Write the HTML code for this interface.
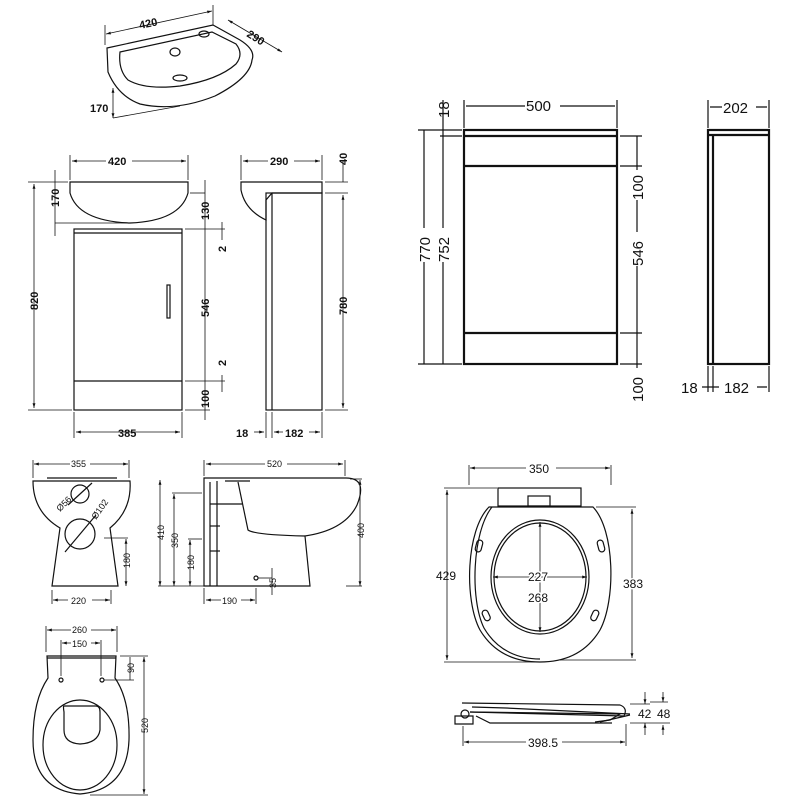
<!DOCTYPE html>
<html><head><style>
html,body{margin:0;padding:0;background:#fff;}
svg{display:block;}
text{font-family:"Liberation Sans",sans-serif;font-weight:bold;fill:#111;}
.l{stroke:#111;fill:none;stroke-width:1.2;}
.t{stroke:#111;fill:none;stroke-width:2.2;}
.d{stroke:#111;fill:none;stroke-width:0.8;}
.s{font-size:9px;font-weight:normal;}
</style></head><body>
<svg width="800" height="800" viewBox="0 0 800 800" xmlns="http://www.w3.org/2000/svg">
<defs><marker id="a" viewBox="0 0 10 10" refX="10" refY="5" markerWidth="6" markerHeight="6" orient="auto-start-reverse"><path d="M0,2 L10,5 L0,8z" fill="#111"/></marker></defs>

<!-- Top basin perspective -->
<g class="l">
<path d="M107,48 L213,25 L240,40 Q256,50 252,60 Q250,78 215,96 Q175,112 140,104 Q118,96 108,72 Z"/>
<path d="M120,52 L212,32 L236,44 Q244,54 236,64 Q218,80 180,86 Q145,90 128,80 Q118,70 120,52Z"/>
<ellipse cx="175" cy="52" rx="5" ry="4"/><ellipse cx="204" cy="34" rx="5" ry="3"/><ellipse cx="180" cy="78" rx="7" ry="3"/>
</g>
<g class="d"><line x1="106" y1="34" x2="212" y2="11" marker-start="url(#a)" marker-end="url(#a)"/><line x1="105" y1="25" x2="105" y2="45"/><line x1="213" y1="5" x2="213" y2="25"/>
<line x1="228" y1="20" x2="282" y2="52" marker-start="url(#a)" marker-end="url(#a)"/>
<line x1="113" y1="88" x2="113" y2="118" marker-start="url(#a)" marker-end="url(#a)"/><line x1="113" y1="118" x2="180" y2="106"/></g>
<text x="140" y="29" font-size="11" transform="rotate(-12 140 29)">420</text>
<text x="246" y="36" font-size="11" transform="rotate(32 246 36)">290</text>
<text x="90" y="112" font-size="11">170</text>

<!-- Vanity front -->
<g class="l">
<path d="M70,182 L188,182 L188,193 Q180,221 130,223 Q78,221 70,193 Z"/>
<rect x="74" y="229" width="108" height="181"/><line x1="74" y1="233" x2="182" y2="233"/><line x1="74" y1="381" x2="182" y2="381"/>
<rect x="167" y="285" width="3" height="33"/>
</g>
<g class="d">
<line x1="72" y1="161" x2="186" y2="161" marker-start="url(#a)" marker-end="url(#a)"/><line x1="70" y1="155" x2="70" y2="180"/><line x1="188" y1="155" x2="188" y2="180"/>
<line x1="34" y1="184" x2="34" y2="408" marker-start="url(#a)" marker-end="url(#a)"/><line x1="28" y1="182" x2="68" y2="182"/><line x1="28" y1="410" x2="72" y2="410"/>
<line x1="55" y1="170" x2="55" y2="236"/><line x1="55" y1="223" x2="130" y2="223"/>
<line x1="205" y1="180" x2="205" y2="420"/><line x1="185" y1="229" x2="225" y2="229"/><line x1="185" y1="381" x2="225" y2="381"/><line x1="185" y1="410" x2="210" y2="410"/><line x1="190" y1="193" x2="205" y2="193"/>
<line x1="222" y1="222" x2="222" y2="240"/><line x1="222" y1="375" x2="222" y2="392"/>
<line x1="76" y1="432" x2="180" y2="432" marker-start="url(#a)" marker-end="url(#a)"/><line x1="74" y1="412" x2="74" y2="438"/><line x1="182" y1="412" x2="182" y2="438"/>
</g>
<rect x="106" y="155" width="26" height="12" fill="#fff"/><text x="108" y="165" font-size="11">420</text>
<text x="38" y="310" font-size="11" transform="rotate(-90 38 310)">820</text>
<text x="59" y="207" font-size="11" transform="rotate(-90 59 207)">170</text>
<text x="209" y="220" font-size="11" transform="rotate(-90 209 220)">130</text>
<text x="209" y="317" font-size="11" transform="rotate(-90 209 317)">546</text>
<text x="209" y="408" font-size="11" transform="rotate(-90 209 408)">100</text>
<text x="226" y="252" font-size="11" transform="rotate(-90 226 252)">2</text>
<text x="226" y="366" font-size="11" transform="rotate(-90 226 366)">2</text>
<text x="118" y="437" font-size="11">385</text>

<!-- Vanity side -->
<g class="l">
<path d="M241,182 L322,182 L322,193 L272,193 L266,200 L266,220 Q245,210 241,190 Z"/>
<rect x="266" y="193" width="56" height="217"/><line x1="272" y1="193" x2="272" y2="410"/>
</g>
<g class="d">
<line x1="243" y1="161" x2="320" y2="161" marker-start="url(#a)" marker-end="url(#a)"/><line x1="241" y1="155" x2="241" y2="180"/><line x1="322" y1="155" x2="322" y2="180"/>
<line x1="343" y1="195" x2="343" y2="408" marker-start="url(#a)" marker-end="url(#a)"/><line x1="325" y1="182" x2="348" y2="182"/><line x1="325" y1="193" x2="348" y2="193"/><line x1="325" y1="410" x2="348" y2="410"/><line x1="343" y1="160" x2="343" y2="182"/>
<line x1="254" y1="432" x2="264" y2="432" marker-end="url(#a)"/><line x1="274" y1="432" x2="320" y2="432" marker-start="url(#a)" marker-end="url(#a)"/><line x1="266" y1="412" x2="266" y2="438"/><line x1="272" y1="412" x2="272" y2="438"/><line x1="322" y1="412" x2="322" y2="438"/>
</g>
<rect x="268" y="155" width="26" height="12" fill="#fff"/><text x="270" y="165" font-size="11">290</text>
<text x="347" y="165" font-size="11" transform="rotate(-90 347 165)">40</text>
<text x="347" y="315" font-size="11" transform="rotate(-90 347 315)">780</text>
<text x="236" y="437" font-size="11">18</text><rect x="283" y="426" width="26" height="12" fill="#fff"/><text x="285" y="437" font-size="11">182</text>

<!-- Tall unit front -->
<g class="t">
<rect x="464" y="130" width="153" height="234"/><line x1="464" y1="136" x2="617" y2="136"/><line x1="464" y1="166" x2="617" y2="166"/><line x1="464" y1="333" x2="617" y2="333"/>
</g>
<g class="l">
<line x1="466" y1="106" x2="615" y2="106"/><line x1="464" y1="100" x2="464" y2="128"/><line x1="617" y1="100" x2="617" y2="128"/>
<line x1="424" y1="130" x2="424" y2="364"/><line x1="443" y1="136" x2="443" y2="364"/><line x1="443" y1="100" x2="443" y2="136"/>
<line x1="418" y1="130" x2="462" y2="130"/><line x1="440" y1="136" x2="462" y2="136"/><line x1="418" y1="364" x2="462" y2="364"/>
<line x1="637" y1="136" x2="637" y2="390"/><line x1="620" y1="136" x2="642" y2="136"/><line x1="620" y1="166" x2="642" y2="166"/><line x1="620" y1="333" x2="642" y2="333"/><line x1="620" y1="364" x2="642" y2="364"/>
</g>
<rect x="525" y="97" width="35" height="16" fill="#fff"/><text x="526" y="111" font-size="15" style="font-weight:normal">500</text>
<rect x="416" y="228" width="16" height="34" fill="#fff"/><text x="430" y="262" font-size="15" style="font-weight:normal" transform="rotate(-90 430 262)">770</text>
<rect x="435" y="228" width="16" height="34" fill="#fff"/><text x="449" y="262" font-size="15" style="font-weight:normal" transform="rotate(-90 449 262)">752</text>
<text x="449" y="118" font-size="15" style="font-weight:normal" transform="rotate(-90 449 118)">18</text>
<rect x="629" y="170" width="16" height="30" fill="#fff"/><text x="643" y="200" font-size="15" style="font-weight:normal" transform="rotate(-90 643 200)">100</text>
<rect x="629" y="232" width="16" height="34" fill="#fff"/><text x="643" y="266" font-size="15" style="font-weight:normal" transform="rotate(-90 643 266)">546</text>
<rect x="629" y="368" width="16" height="34" fill="#fff"/><text x="643" y="402" font-size="15" style="font-weight:normal" transform="rotate(-90 643 402)">100</text>

<!-- Tall unit side -->
<g class="t">
<rect x="708" y="130" width="61" height="234"/><line x1="708" y1="135" x2="769" y2="135"/><line x1="713" y1="135" x2="713" y2="364"/>
</g>
<g class="l">
<line x1="708" y1="100" x2="708" y2="128"/><line x1="769" y1="100" x2="769" y2="128"/><line x1="710" y1="107" x2="767" y2="107"/>
<line x1="708" y1="366" x2="708" y2="392"/><line x1="713" y1="366" x2="713" y2="392"/><line x1="769" y1="366" x2="769" y2="392"/><line x1="700" y1="387" x2="767" y2="387"/>
</g>
<rect x="722" y="99" width="34" height="16" fill="#fff"/><text x="723" y="113" font-size="15" style="font-weight:normal">202</text>
<rect x="680" y="379" width="22" height="16" fill="#fff"/><text x="681" y="393" font-size="15" style="font-weight:normal">18</text>
<rect x="719" y="379" width="38" height="16" fill="#fff"/><text x="724" y="393" font-size="15" style="font-weight:normal">182</text>

<!-- Toilet front -->
<g class="l">
<line x1="47" y1="478" x2="117" y2="478"/>
<path d="M33,481 L130,481 Q132,510 110,528 L118,586 L52,586 L60,528 Q33,512 33,481Z"/>
<circle cx="80" cy="494" r="9"/><circle cx="80" cy="534" r="15"/>
<line x1="68" y1="505" x2="92" y2="483"/><line x1="65" y1="552" x2="96" y2="515"/>
</g>
<g class="d">
<line x1="34" y1="464" x2="128" y2="464" marker-start="url(#a)" marker-end="url(#a)"/><line x1="33" y1="460" x2="33" y2="478"/><line x1="129" y1="460" x2="129" y2="478"/>
<line x1="53" y1="600" x2="110" y2="600" marker-start="url(#a)" marker-end="url(#a)"/><line x1="52" y1="590" x2="52" y2="604"/><line x1="111" y1="590" x2="111" y2="604"/>
<line x1="126" y1="539" x2="126" y2="586" marker-start="url(#a)" marker-end="url(#a)"/><line x1="104" y1="538" x2="128" y2="538"/>
</g>
<rect x="70" y="458" width="20" height="10" fill="#fff"/><text x="71" y="467" class="s">355</text>
<rect x="68" y="595" width="24" height="10" fill="#fff"/><text x="71" y="604" class="s">220</text>
<text x="60" y="512" class="s" transform="rotate(-45 60 512)">Ø56</text>
<text x="96" y="520" class="s" transform="rotate(-55 96 520)">Ø102</text>
<text x="130" y="568" class="s" transform="rotate(-90 130 568)">180</text>

<!-- Toilet side -->
<g class="l">
<path d="M204,478 L346,478 Q368,478 357,505 Q345,530 305,536 L310,586 L204,586 Z"/>
<path d="M238,482 L248,530 Q255,535 305,536"/><line x1="225" y1="481" x2="250" y2="481"/>
<line x1="217" y1="481" x2="217" y2="586"/><line x1="210" y1="482" x2="210" y2="586"/>
<line x1="210" y1="504" x2="242" y2="504"/><line x1="210" y1="526" x2="220" y2="526"/><line x1="210" y1="551" x2="220" y2="551"/>
<circle cx="256" cy="578" r="2"/>
</g>
<g class="d">
<line x1="206" y1="464" x2="343" y2="464" marker-start="url(#a)" marker-end="url(#a)"/><line x1="204" y1="460" x2="204" y2="476"/><line x1="345" y1="460" x2="345" y2="476"/>
<line x1="160" y1="480" x2="160" y2="586" marker-start="url(#a)" marker-end="url(#a)"/>
<line x1="174" y1="494" x2="174" y2="586" marker-start="url(#a)" marker-end="url(#a)"/><line x1="172" y1="493" x2="202" y2="493"/>
<line x1="190" y1="540" x2="190" y2="586" marker-start="url(#a)" marker-end="url(#a)"/><line x1="188" y1="539" x2="202" y2="539"/>
<line x1="158" y1="586" x2="204" y2="586"/><line x1="346" y1="586" x2="362" y2="586"/>
<line x1="360" y1="480" x2="360" y2="586" marker-start="url(#a)" marker-end="url(#a)"/><line x1="350" y1="479" x2="362" y2="479"/>
<line x1="206" y1="600" x2="255" y2="600" marker-start="url(#a)" marker-end="url(#a)"/><line x1="204" y1="588" x2="204" y2="604"/><line x1="256" y1="588" x2="256" y2="604"/>
<line x1="272" y1="568" x2="272" y2="595"/><line x1="258" y1="578" x2="272" y2="578"/>
</g>
<rect x="265" y="458" width="22" height="10" fill="#fff"/><text x="267" y="467" class="s">520</text>
<rect x="221" y="595" width="20" height="10" fill="#fff"/><text x="222" y="604" class="s">190</text>
<text x="164" y="540" class="s" transform="rotate(-90 164 540)">410</text>
<text x="178" y="548" class="s" transform="rotate(-90 178 548)">350</text>
<text x="194" y="570" class="s" transform="rotate(-90 194 570)">180</text>
<text x="364" y="538" class="s" transform="rotate(-90 364 538)">400</text>
<text x="276" y="588" class="s" transform="rotate(-90 276 588)">35</text>

<!-- Toilet top -->
<g class="l">
<path d="M47,656 L116,656 L115,678 Q130,700 129,740 Q127,790 80,794 Q33,790 33,740 Q33,700 48,678 Z"/>
<line x1="47" y1="658" x2="116" y2="658"/>
<ellipse cx="80" cy="745" rx="37" ry="45"/>
<path d="M64,706 L96,706 Q100,706 100,712 L100,730 Q98,743 80,744 Q64,743 64,730 L64,712 Q63,706 64,706Z"/>
<circle cx="61" cy="680" r="2"/><circle cx="102" cy="680" r="2"/>
</g>
<g class="d">
<line x1="47" y1="630" x2="116" y2="630" marker-start="url(#a)" marker-end="url(#a)"/><line x1="46" y1="626" x2="46" y2="652"/><line x1="117" y1="626" x2="117" y2="652"/>
<line x1="62" y1="643" x2="100" y2="643" marker-start="url(#a)" marker-end="url(#a)"/><line x1="61" y1="640" x2="61" y2="676"/><line x1="101" y1="640" x2="101" y2="676"/>
<line x1="144" y1="657" x2="144" y2="794" marker-start="url(#a)" marker-end="url(#a)"/><line x1="120" y1="656" x2="148" y2="656"/><line x1="90" y1="795" x2="148" y2="795"/>
<line x1="130" y1="657" x2="130" y2="680"/><line x1="104" y1="680" x2="134" y2="680"/>
</g>
<rect x="71" y="624" width="20" height="10" fill="#fff"/><text x="72" y="633" class="s">260</text>
<rect x="71" y="638" width="20" height="10" fill="#fff"/><text x="72" y="647" class="s">150</text>
<text x="134" y="673" class="s" transform="rotate(-90 134 673)">90</text>
<text x="148" y="733" class="s" transform="rotate(-90 148 733)">520</text>

<!-- Seat top -->
<g class="l">
<rect x="498" y="488" width="83" height="18"/><rect x="528" y="496" width="22" height="10"/>
<path d="M489,507 L593,507 C615,530 616,600 600,630 C585,655 562,662 540,662 C518,662 495,655 480,630 C464,600 466,530 489,507Z"/>
<path d="M492,507 C472,532 470,600 484,628 C498,652 520,659 540,659"/>
<ellipse cx="540" cy="577" rx="49" ry="57"/><ellipse cx="540" cy="577" rx="46" ry="54"/>
<rect x="476" y="540" width="6" height="12" rx="3" transform="rotate(15 479 546)"/><rect x="598" y="540" width="6" height="12" rx="3" transform="rotate(-15 601 546)"/>
<rect x="483" y="610" width="6" height="11" rx="3" transform="rotate(-25 486 615)"/><rect x="592" y="610" width="6" height="11" rx="3" transform="rotate(25 595 615)"/>
</g>
<g class="d">
<line x1="470" y1="468" x2="610" y2="468" marker-start="url(#a)" marker-end="url(#a)"/><line x1="469" y1="465" x2="469" y2="485"/><line x1="611" y1="465" x2="611" y2="485"/>
<line x1="447" y1="490" x2="447" y2="660" marker-start="url(#a)" marker-end="url(#a)"/><line x1="444" y1="488" x2="497" y2="488"/><line x1="444" y1="662" x2="540" y2="662"/>
<line x1="632" y1="509" x2="632" y2="658" marker-start="url(#a)" marker-end="url(#a)"/><line x1="596" y1="507" x2="636" y2="507"/><line x1="560" y1="660" x2="636" y2="660"/>
<line x1="540" y1="522" x2="540" y2="632" marker-start="url(#a)" marker-end="url(#a)"/>
<line x1="493" y1="577" x2="587" y2="577" marker-start="url(#a)" marker-end="url(#a)"/>
</g>
<rect x="526" y="462" width="30" height="13" fill="#fff"/><text x="529" y="473" font-size="12" style="font-weight:normal">350</text>
<text x="436" y="580" font-size="12" style="font-weight:normal">429</text>
<text x="623" y="588" font-size="12" style="font-weight:normal" stroke="#fff" stroke-width="3" paint-order="stroke">383</text>
<text x="528" y="581" font-size="12" style="font-weight:normal" stroke="#fff" stroke-width="3" paint-order="stroke">227</text>
<text x="528" y="602" font-size="12" style="font-weight:normal" stroke="#fff" stroke-width="3" paint-order="stroke">268</text>

<!-- Seat side -->
<g class="l">
<path d="M462,703 L620,705 Q628,708 624,716 L470,712"/>
<path d="M470,712 L620,714 L610,720 L595,722"/>
<path d="M472,707 L506,708 L630,714"/>
<circle cx="465" cy="714" r="4"/><path d="M455,716 L473,716 L473,724 L455,724 Z"/>
<path d="M476,716 L490,723 L612,723"/>
<path d="M600,722 L630,715"/>
</g>
<g class="d">
<line x1="464" y1="742" x2="625" y2="742" marker-start="url(#a)" marker-end="url(#a)"/><line x1="463" y1="726" x2="463" y2="746"/><line x1="626" y1="724" x2="626" y2="746"/>
<line x1="645" y1="692" x2="645" y2="704" marker-end="url(#a)"/><line x1="645" y1="735" x2="645" y2="723" marker-end="url(#a)"/><line x1="630" y1="704" x2="650" y2="704"/><line x1="630" y1="723" x2="670" y2="723"/>
<line x1="663" y1="692" x2="663" y2="702" marker-end="url(#a)"/><line x1="663" y1="735" x2="663" y2="725" marker-end="url(#a)"/><line x1="650" y1="702" x2="668" y2="702"/>
</g>
<rect x="526" y="736" width="36" height="13" fill="#fff"/><text x="528" y="747" font-size="12" style="font-weight:normal">398.5</text>
<text x="638" y="718" font-size="12" style="font-weight:normal">42</text>
<text x="657" y="718" font-size="12" style="font-weight:normal">48</text>
</svg>
</body></html>
